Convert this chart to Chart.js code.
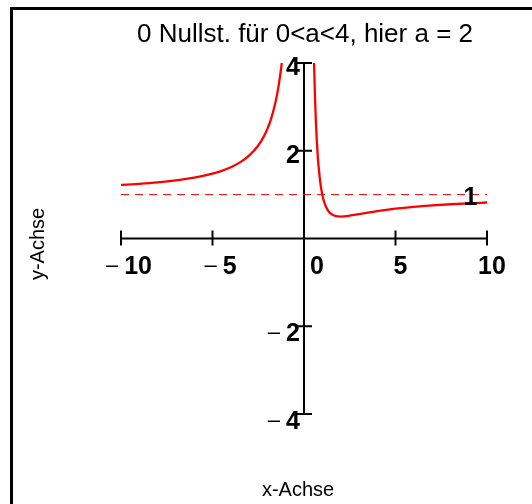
<!DOCTYPE html>
<html>
<head>
<meta charset="utf-8">
<script src="https://cdn.jsdelivr.net/npm/chart.js@4.4.1/dist/chart.umd.min.js"></script>
<style>
  html, body { margin: 0; padding: 0; background: #fff; }
  canvas { display: block; }
</style>
</head>
<body>
<canvas id="chart" width="532" height="504"></canvas>
<script>
// values (a = 2)
const leftX  = [-10, -9, -8, -7, -6, -5, -4.5, -4, -3.5, -3, -2.5, -2.2, -2, -1.8, -1.6, -1.5, -1.4, -1.3, -1.25, -1.2];
const leftY  = [1.22, 1.247, 1.281, 1.327, 1.389, 1.48, 1.543, 1.625, 1.735, 1.889, 2.12, 2.322, 2.5, 2.728, 3.031, 3.222, 3.449, 3.722, 3.88, 4.056];
const rightX = [0.54, 0.55, 0.6, 0.65, 0.7, 0.75, 0.8, 0.9, 1, 1.1, 1.2, 1.35, 1.5, 1.75, 2, 2.5, 3, 4, 5, 6, 7, 8, 9, 10];
const rightY = [4.155, 3.975, 3.222, 2.657, 2.224, 1.889, 1.625, 1.247, 1, 0.835, 0.722, 0.616, 0.556, 0.51, 0.5, 0.52, 0.556, 0.625, 0.68, 0.722, 0.755, 0.781, 0.802, 0.82];
const asymX  = [-10, 10];
const asymY  = [1, 1];
const xTicks = [-10, -5, 0, 5, 10];
const yTicks = [4, 2, -2, -4];

const titleText = "0 Nullst. für 0<a<4, hier a = 2";
const FONT = '"Liberation Sans", Arial, sans-serif';
const NUM_FONT = "bold 25px " + FONT;
const DASH_FONT = "22px " + FONT;
const GAP = 6;

function pts(xs, ys) {
  return xs.map((x, i) => ({ x, y: ys[i] }));
}

// draws "– n" with a thin normal dash and a bold number
// align: "center" (x = middle of whole string) or "right" (x = right edge)
function drawSigned(ctx, v, x, y, align) {
  const num = String(Math.abs(v));
  ctx.font = NUM_FONT;
  const nw = ctx.measureText(num).width;
  let dw = 0;
  if (v < 0) {
    ctx.font = DASH_FONT;
    dw = ctx.measureText("\u2013").width + GAP;
  }
  const total = dw + nw;
  const left = align === "right" ? x - total : x - total / 2;
  ctx.textAlign = "left";
  if (v < 0) {
    ctx.font = DASH_FONT;
    ctx.fillText("\u2013", left, y - 2);
  }
  ctx.font = NUM_FONT;
  ctx.fillText(num, left + dw, y);
}

const axesPlugin = {
  id: "axesPlugin",
  beforeDatasetsDraw(chart) {
    const { ctx, scales: { x, y } } = chart;
    const x0 = x.getPixelForValue(0);
    const y0 = y.getPixelForValue(0);
    ctx.save();
    ctx.strokeStyle = "#000";
    ctx.lineWidth = 2;
    ctx.beginPath();
    ctx.moveTo(x.getPixelForValue(-10), y0);
    ctx.lineTo(x.getPixelForValue(10), y0);
    ctx.moveTo(x0, y.getPixelForValue(4));
    ctx.lineTo(x0, y.getPixelForValue(-4));
    xTicks.forEach((t) => {
      const px = x.getPixelForValue(t);
      ctx.moveTo(px, y0 - 8);
      ctx.lineTo(px, y0 + 7);
    });
    yTicks.forEach((t) => {
      const py = y.getPixelForValue(t);
      ctx.moveTo(x0 - 7, py);
      ctx.lineTo(x0 + 8, py);
    });
    ctx.stroke();
    ctx.restore();
  },
  afterDraw(chart) {
    const { ctx, scales: { x, y } } = chart;
    const x0 = x.getPixelForValue(0);
    ctx.save();
    // frame (left and top edges only)
    ctx.fillStyle = "#000";
    ctx.fillRect(10, 7, 3, 497);
    ctx.fillRect(10, 7, 522, 3);

    ctx.textBaseline = "alphabetic";
    ctx.font = "26px " + FONT;
    ctx.textAlign = "center";
    ctx.fillText(titleText, 305, 42);

    ctx.font = "20px " + FONT;
    ctx.fillText("x-Achse", 298, 496);
    ctx.save();
    ctx.translate(44, 244);
    ctx.rotate(-Math.PI / 2);
    ctx.fillText("y-Achse", 0, 0);
    ctx.restore();

    // x tick labels
    xTicks.forEach((t) => {
      const px = x.getPixelForValue(t);
      let off = t < 0 ? 8 : 5;
      if (t === 0) off = 13;
      drawSigned(ctx, t, px + off, 274, "center");
    });

    // y tick labels
    yTicks.forEach((t) => {
      const py = y.getPixelForValue(t);
      const dy = t > 0 ? 12 : 15;
      drawSigned(ctx, t, x0 - 4, py + dy, "right");
    });

    // asymptote label
    ctx.font = NUM_FONT;
    ctx.textAlign = "center";
    ctx.fillText("1", x.getPixelForValue(9.1), y.getPixelForValue(1) + 10);
    ctx.restore();
  }
};

new Chart(document.getElementById("chart"), {
  type: "scatter",
  data: {
    datasets: [
      {
        data: pts(asymX, asymY),
        showLine: true,
        borderColor: "#e00000",
        borderWidth: 1,
        borderDash: [8, 6],
        pointRadius: 0
      },
      {
        data: pts(leftX, leftY),
        showLine: true,
        borderColor: "#ff0000",
        borderWidth: 2.3,
        pointRadius: 0,
        cubicInterpolationMode: "monotone"
      },
      {
        data: pts(rightX, rightY),
        showLine: true,
        borderColor: "#ff0000",
        borderWidth: 2.3,
        pointRadius: 0,
        cubicInterpolationMode: "monotone"
      }
    ]
  },
  options: {
    responsive: false,
    animation: false,
    layout: { padding: { left: 121, right: 45, top: 63, bottom: 90 } },
    plugins: { legend: { display: false }, tooltip: { enabled: false }, title: { display: false } },
    scales: {
      x: { type: "linear", min: -10, max: 10, display: false },
      y: { type: "linear", min: -4, max: 4, display: false }
    }
  },
  plugins: [axesPlugin]
});
</script>
</body>
</html>
